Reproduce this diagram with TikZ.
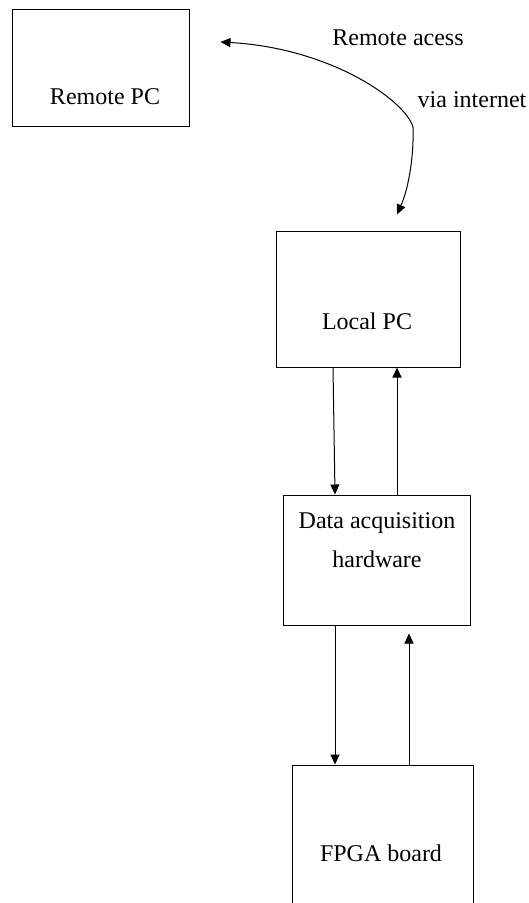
\documentclass[tikz,border=0pt]{standalone}
\usepackage{fontspec}
\setmainfont{Liberation Serif}
\usepackage{tikz}
\usetikzlibrary{calc}
\usetikzlibrary{arrows.meta}

\begin{document}
\begin{tikzpicture}[x=1pt, y=-1pt]
	\tikzstyle{every node}=[font=\fontsize{24}{39}\selectfont]
	\tikzset{block/.style = {rectangle, draw, line width = 1pt, inner sep = 0pt}}
	\tikzset{link/.style = {line width = 1pt, >={Triangle[length = 10pt, width = 9pt]}}}

\useasboundingbox (0,0) rectangle (528,903);
\clip (0,0) rectangle (528,903);

%% Remote PC
\draw (100.5,67.5) node[block, name = remote, minimum width = 177pt, minimum height = 117pt]{};
\draw (105,97) node[name = remotetext]{Remote PC};

%% Local PC
\draw (368,299) node[block, name = local, minimum width = 184pt, minimum height = 136pt]{};
\draw (367,321) node[name = localtext]{Local PC};

%% Data acquisition
\draw (376.5,560) node[block, name = daq, minimum width = 187pt, minimum height = 130pt]{};
\draw (377,540) node[name = daqtext, align = center]{Data acquisition\\hardware};

%% FPGA board (cut at the bottom)
\draw (382.5,840) node[block, name = fpga, minimum width = 181pt, minimum height = 150pt]{};
\draw (381,853) node[name = fpgatext]{FPGA board};

%% Remote link
\draw[link, <->] ([xshift = 31pt, yshift = 25.5pt]remote.east) .. controls (330,48) and (405,100) .. (413,127) .. controls (414,150) and (410,185) .. ([xshift = 29pt, yshift = 16pt]local.north);
\draw (398,38) node[name = acesslabel]{Remote acess};
\draw (472,100) node[name = netlabel]{via internet};

%% Edges
\draw[link, ->] ([xshift = -35pt]local.south) -- ([xshift = -41.5pt]daq.north);
\draw[link, ->] ([xshift = 20.5pt]daq.north) -- ([xshift = 29pt]local.south);
\draw[link, ->] ([xshift = -41.5pt]daq.south) -- ([xshift = -47.5pt]fpga.north);
\draw[link, ->] ([xshift = 26.5pt]fpga.north) -- ([xshift = 32.5pt, yshift = -8pt]daq.south);

\end{tikzpicture}
\end{document}
